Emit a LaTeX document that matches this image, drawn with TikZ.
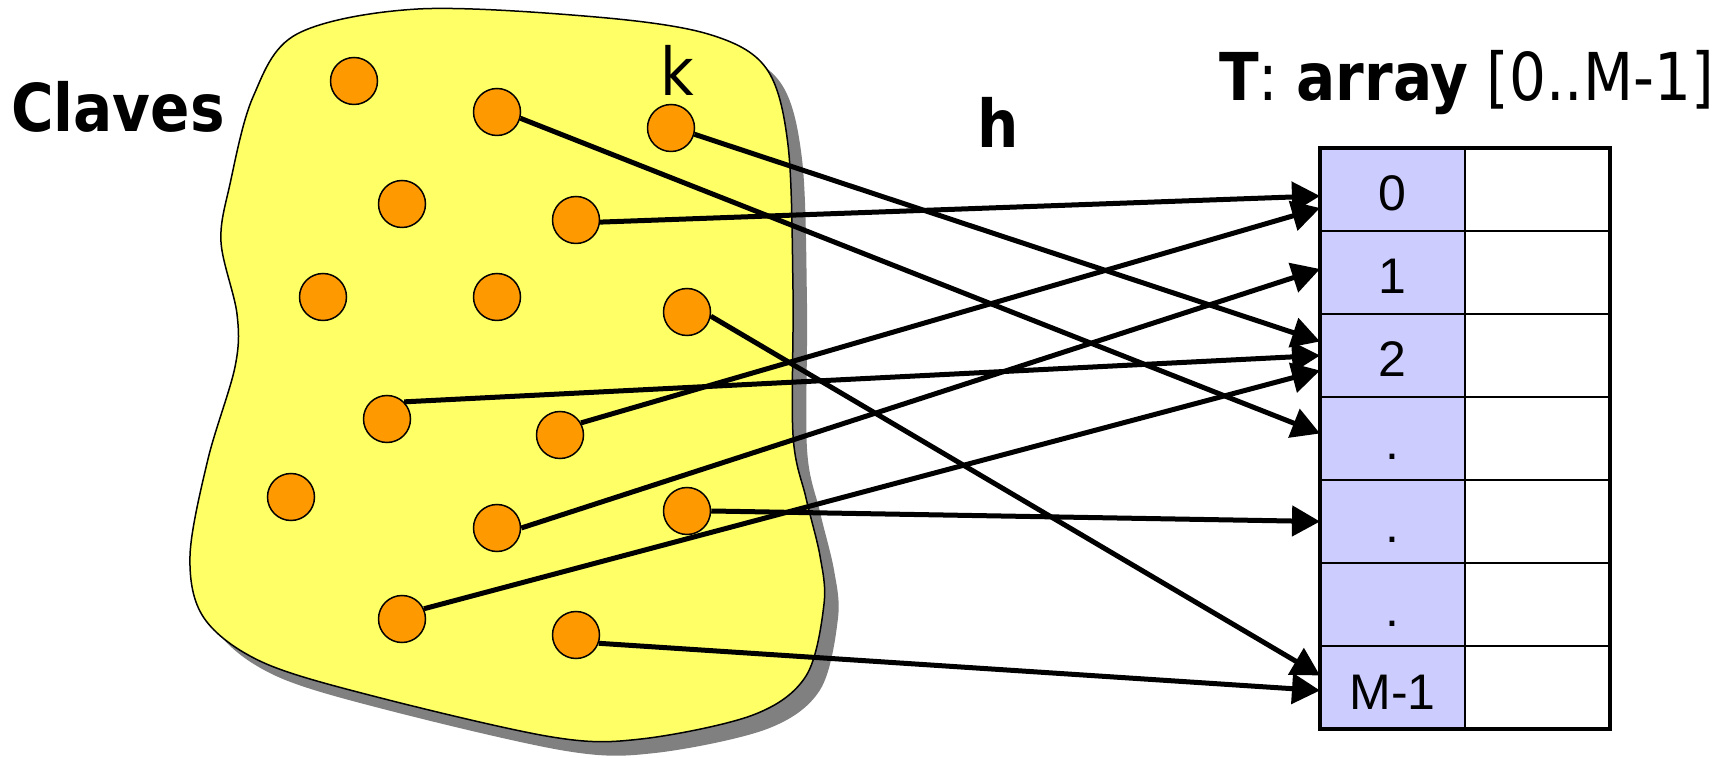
\documentclass[tikz,border=0pt]{standalone}
\usepackage{fontspec}
\setmainfont{DejaVu Sans}[FakeStretch=0.88]
\newfontfamily\cellfont{Liberation Sans}
\usepackage{tikz}
\usetikzlibrary{arrows.meta,positioning}
\definecolor{lyellow}{RGB}{255,255,102}
\definecolor{korange}{RGB}{255,153,0}
\definecolor{lblue}{RGB}{204,204,255}
\definecolor{dgray}{RGB}{128,128,128}
\tikzset{>={Triangle[length=14pt,width=15pt]}}
\tikzset{
  key/.style={circle, draw=black, fill=korange, line width=0.75pt, minimum size=23.5pt, inner sep=0pt},
  slot/.style={draw=black, line width=0.8pt, minimum width=72.5pt, minimum height=41.5pt, inner sep=0pt, outer sep=0pt, text height=21.5pt, text depth=0pt, font=\cellfont\fontsize{25}{30}\selectfont},
  hash/.style={->, line width=2.5pt},
  big/.style={font=\fontsize{33}{40}\selectfont},
  bigb/.style={font=\bfseries\fontsize{33}{40}\selectfont}
}
\newcommand{\blobshape}[1]{
  \path[#1] plot[smooth cycle, tension=0.55] coordinates {(297,34) (418,9) (596,17) (708,34) (766,68) (788,145) (793,290) (793,435) (806,498) (820,556) (824,604) (806,676) (753,715) (641,739) (552,737) (373,696) (262,662) (204,618) (190,556) (208,459) (235,367) (237,314) (221,242) (230,184) (253,97)};
}

\begin{document}
\begin{tikzpicture}[x=0.5pt, y=-0.5pt]
  \useasboundingbox (0,0) rectangle (1713,758);
  % set of keys
  \blobshape{fill=dgray, shift={(14,14)}}
  \blobshape{fill=lyellow, draw=black, line width=0.75pt}
  \foreach \n/\x/\y in {1/354/81, 2/497/112, 3/671/128, 4/402/204, 5/576/220,
    6/323/297, 7/497/297, 8/687/312, 9/387/419, 10/560/435,
    11/291/497, 12/497/528, 13/687/511, 14/402/619, 15/576/635}
    \node[key] (c\n) at (\x,\y) {};
  \node[bigb, anchor=base west] (claves) at (4,132) {Claves};
  \node[big, anchor=base] (klab) at (677,96) {k};
  \node[bigb, anchor=base] (hlab) at (998,148) {h};
  % table T
  \node[big, anchor=base west] (title) at (1212,101) {\textbf{T}:~\textbf{array} [0..M-1]};
  \foreach \lab [count=\i from 0] in {0,1,2,.,.,.,M-1} {
    \node[slot, fill=lblue] (t\i) at (1392.5,189.5+83*\i) {\lab};
    \node[slot, right=0pt of t\i] (v\i) {};
  }
  \draw[line width=2pt] (t0.north west) rectangle (v6.south east);
  % hash function
  \draw[hash] (c2.-15) -- ([yshift=2.5pt]t3.west);
  \draw[hash] (c3.-15) -- ([yshift=7pt]t2.west);
  \draw[hash] (c5.-5) -- ([yshift=-3.25pt]t0.west);
  \draw[hash] (c8.-10) -- ([yshift=6pt]t6.west);
  \draw[hash] (c9.45) -- (t2.west);
  \draw[hash] (c10.30) -- ([yshift=-9.25pt]t0.west);
  \draw[hash] (c12.east) -- ([yshift=1.75pt]t1.west);
  \draw[hash] (c13.east) -- (t4.west);
  \draw[hash] (c14.25) -- ([yshift=-7.5pt]t2.west);
  \draw[hash] (c15.-20) -- ([yshift=-1.5pt]t6.west);
\end{tikzpicture}
\end{document}
